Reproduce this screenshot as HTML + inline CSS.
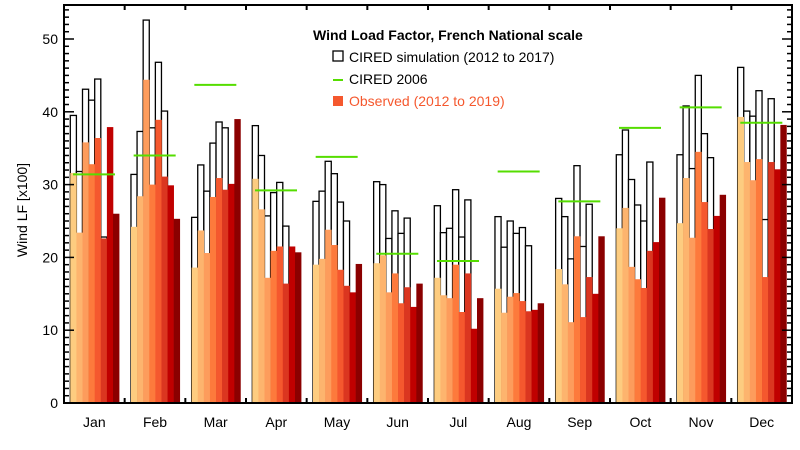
<!DOCTYPE html>
<html><head><meta charset="utf-8"><style>
body{margin:0;background:#fff;}
svg{display:block;font-family:"Liberation Sans",sans-serif;}
</style></head><body>
<svg id="chart" width="800" height="450"></svg>
<script>
const months=['Jan','Feb','Mar','Apr','May','Jun','Jul','Aug','Sep','Oct','Nov','Dec'];
const observed=[
[31.6,23.4,35.8,32.8,36.4,22.6,37.9,26.0],
[24.2,28.4,44.4,30.0,38.9,31.1,29.9,25.3],
[18.6,23.7,20.6,28.3,30.9,29.3,30.1,39.0],
[30.8,26.6,17.2,20.9,21.5,16.4,21.5,20.7],
[19.0,19.8,23.8,21.7,18.3,16.1,15.2,19.1],
[19.2,20.3,15.2,17.8,13.7,15.9,13.2,16.4],
[17.2,14.8,14.4,19.0,12.5,17.8,10.2,14.4],
[15.7,12.4,14.6,15.1,14.0,12.6,12.8,13.7],
[18.4,16.3,11.1,22.9,11.8,17.3,15.0,22.9],
[24.0,26.8,18.7,17.0,15.8,20.9,22.1,28.2],
[24.7,30.9,22.7,34.5,27.6,23.9,25.7,28.6],
[39.3,33.1,30.6,33.5,17.3,33.1,32.1,38.2]];
const simulated=[
[39.5,31.8,43.1,41.6,44.5,22.8],
[31.4,37.3,52.6,37.8,46.8,40.1],
[25.5,32.7,29.1,35.7,38.6,37.8],
[38.1,34.0,25.7,28.9,30.3,24.3],
[27.7,29.1,33.2,31.5,27.6,25.0],
[30.4,30.0,22.6,26.4,23.3,25.4],
[27.1,23.4,24.0,29.3,22.8,27.9],
[25.6,21.4,25.0,23.3,24.1,21.6],
[28.1,25.6,19.8,32.6,21.5,27.3],
[34.1,37.5,30.7,27.2,25.0,33.1],
[34.1,40.8,32.2,45.0,37.0,33.7],
[46.1,40.1,39.4,42.9,25.2,41.8]];
const cired2006=[31.4,34.0,43.7,29.2,33.8,20.5,19.5,31.8,27.7,37.8,40.6,38.5];
const yTicks=[0,10,20,30,40,50];
const colors=['#fdcc80','#fdb46e','#fd9c5c','#fd7a3c','#f5582e','#db3620','#c00000','#8b0000'];

const svg=document.getElementById('chart');
const NS='http://www.w3.org/2000/svg';
const X0=64,X1=792,Y0=403,YT=5,SLOT=(X1-X0)/12,BW=6.1,PX=7.28;
function y(v){return Y0-v*PX;}
function bx(m,i){return X0+m*SLOT+6.3+i*BW;}
function el(t,a,p){const e=document.createElementNS(NS,t);for(const k in a)e.setAttribute(k,a[k]);(p||svg).appendChild(e);return e;}

const gSim=el('g',{});


const gObs=el('g',{});


const gC=el('g',{});



months.forEach((mn,m)=>{
  simulated[m].forEach((v,i)=>{
    const r=el('rect',{x:bx(m,i),y:y(v),width:BW,height:Y0-y(v),fill:'#fff',stroke:'#000','stroke-width':1.3},gSim);
    
    
  });
  observed[m].forEach((v,i)=>{
    const r=el('rect',{x:bx(m,i),y:y(v),width:BW+0.3,height:Y0-y(v),fill:colors[i]},gObs);
    
    
  });
  const l=el('line',{x1:X0+m*SLOT+9,x2:X0+m*SLOT+51,y1:y(cired2006[m]),y2:y(cired2006[m]),stroke:'#55dd00','stroke-width':2},gC);
  
  
  const t=el('text',{x:X0+(m+0.5)*SLOT,y:427,'text-anchor':'middle','font-size':14});
  t.textContent=mn;
  
  
});

// axes frame
const ax=el('g',{stroke:'#000','stroke-width':2});


el('rect',{x:X0,y:YT,width:X1-X0,height:Y0-YT,fill:'none'},ax);
for(let m=1;m<12;m++){
  const xx=X0+m*SLOT;
  el('line',{x1:xx,x2:xx,y1:YT,y2:YT+5},ax);
  el('line',{x1:xx,x2:xx,y1:Y0,y2:Y0-5},ax);
}
for(let v=0;v<=54;v++){
  const L=v%10===0?10:5;
  el('line',{x1:X0,x2:X0+L,y1:y(v),y2:y(v),'stroke-width':1.5},ax);
  el('line',{x1:X1,x2:X1-L,y1:y(v),y2:y(v),'stroke-width':1.5},ax);
}
yTicks.forEach(v=>{
  const t=el('text',{x:58,y:y(v)+5,'text-anchor':'end','font-size':14});
  t.textContent=v;
  
  
});
const yl=el('text',{x:27,y:210,'text-anchor':'middle','font-size':14,transform:'rotate(-90 27 210)'});
yl.textContent='Wind LF [x100]';



// legend
const ttl=el('text',{x:313,y:40,'font-size':14,'font-weight':'bold'});
ttl.textContent='Wind Load Factor, French National scale';


const lg=el('g',{});


el('rect',{x:333,y:51,width:10,height:10,fill:'#fff',stroke:'#000','stroke-width':1.3},lg);
const t1=el('text',{x:349,y:62,'font-size':14},lg);t1.textContent='CIRED simulation (2012 to 2017)';


el('line',{x1:333,x2:343,y1:80,y2:80,stroke:'#55dd00','stroke-width':2},lg);
const t2=el('text',{x:349,y:84,'font-size':14},lg);t2.textContent='CIRED 2006';


el('rect',{x:333,y:96,width:10,height:10,fill:'#f5582e'},lg);
const t3=el('text',{x:349,y:106,'font-size':14,fill:'#f5582e'},lg);t3.textContent='Observed (2012 to 2019)';


</script>
</body></html>
